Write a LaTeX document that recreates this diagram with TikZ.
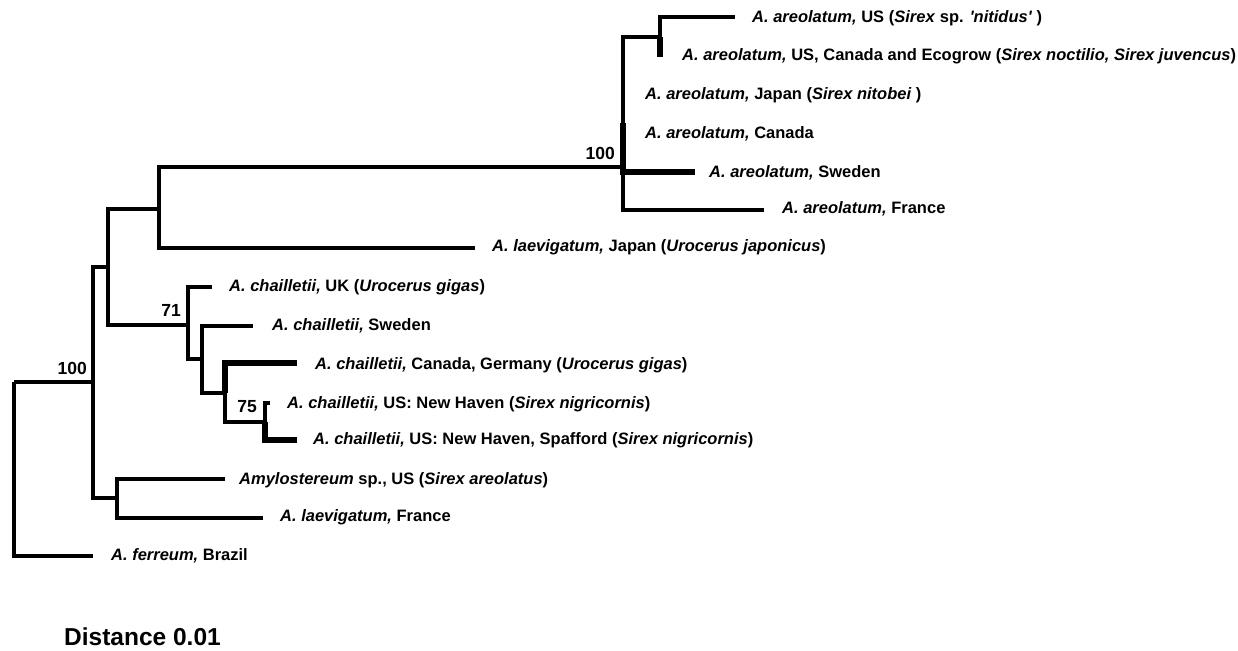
\documentclass[tikz,border=0pt]{standalone}
\usepackage{fontspec}
\setmainfont{Liberation Sans}
\begin{document}
\begin{tikzpicture}[x=1pt,y=-1pt,
  br/.style={line width=3.4pt,line join=miter},
  thk/.style={line width=5.5pt},
  lab/.style={anchor=west,inner sep=0pt,font=\fontsize{16.5}{19}\selectfont\bfseries},
  boot/.style={anchor=base east,inner sep=0pt,font=\fontsize{17.5}{19}\selectfont\bfseries}]
\path[use as bounding box] (0,0) rectangle (1238,650);
% inner nodes
\coordinate (root) at (14,382);
\coordinate (n93) at (93,382);
\coordinate (n108) at (108,267);
\coordinate (n159) at (159,209);
\coordinate (nA) at (623,167);
\coordinate (nUS) at (623,37);
\coordinate (nUSb) at (660,37);
\coordinate (n188) at (188,325);
\coordinate (n202) at (202,359);
\coordinate (n225) at (225,393);
\coordinate (n265) at (265,422);
\coordinate (n117) at (117,498);
% tips
\coordinate (tFer) at (93,556);
\coordinate (tUS) at (735,17);
\coordinate (tEco) at (660,57);
\coordinate (tJapA) at (623,123);
\coordinate (tCan) at (623,172);
\coordinate (tSweA) at (695,172);
\coordinate (tFra) at (764,210);
\coordinate (tLaevJ) at (475,248);
\coordinate (tUK) at (212,287);
\coordinate (tSwe) at (253,326);
\coordinate (tCG) at (297,363);
\coordinate (tNH) at (270,403);
\coordinate (tNHS) at (297,440);
\coordinate (tAmy) at (225,479);
\coordinate (tLaevF) at (263,518);
% branches
\draw[br] (root) |- (tFer);
\draw[br] (root) -- (n93);
\draw[br] (n93) |- (n108);
\draw[br] (n93) |- (n117);
\draw[br] (n108) |- (n159);
\draw[br] (n108) |- (n188);
\draw[br] (n159) |- (nA);
\draw[br] (n159) |- (tLaevJ);
\draw[br] (nA) -- (nUS) -- (nUSb);
\draw[br] (nA) |- (tFra);
\draw[thk] (tJapA) -- (tCan);
\draw[thk] (nA) |- (tSweA);
\draw[br] (nUSb) |- (tUS);
\draw[thk] (nUSb) -- (tEco);
\draw[br] (n188) |- (tUK);
\draw[br] (n188) |- (n202);
\draw[br] (n202) |- (tSwe);
\draw[br] (n202) |- (n225);
\draw[thk] (n225) |- (tCG);
\draw[br] (n225) |- (n265);
\draw[br] (n265) |- (tNH);
\draw[thk] (n265) |- (tNHS);
\draw[br] (n117) |- (tAmy);
\draw[br] (n117) |- (tLaevF);
% labels
\node[lab] (lUS) at (752,18) {\textit{A. areolatum,} US (\textit{Sirex} sp. \textit{\textquotesingle nitidus\textquotesingle} )};
\node[lab] (lEco) at (682,56) {\textit{A. areolatum,} US, Canada and Ecogrow (\textit{Sirex noctilio, Sirex juvencus})};
\node[lab] (lJap) at (645,95) {\textit{A. areolatum,} Japan (\textit{Sirex nitobei} )};
\node[lab] (lCan) at (645,134) {\textit{A. areolatum,} Canada};
\node[lab] (lSweA) at (709,173) {\textit{A. areolatum,} Sweden};
\node[lab] (lFra) at (782,209) {\textit{A. areolatum,} France};
\node[lab] (lLaevJ) at (492,247) {\textit{A. laevigatum,} Japan (\textit{Urocerus japonicus})};
\node[lab] (lUK) at (229,287) {\textit{A. chailletii,} UK (\textit{Urocerus gigas})};
\node[lab] (lSwe) at (272,326) {\textit{A. chailletii,} Sweden};
\node[lab] (lCG) at (315,365) {\textit{A. chailletii,} Canada, Germany (\textit{Urocerus gigas})};
\node[lab] (lNH) at (287,404) {\textit{A. chailletii,} US: New Haven (\textit{Sirex nigricornis})};
\node[lab] (lNHS) at (313,440) {\textit{A. chailletii,} US: New Haven, Spafford (\textit{Sirex nigricornis})};
\node[lab] (lAmy) at (239,480) {\textit{Amylostereum} sp., US (\textit{Sirex areolatus})};
\node[lab] (lLaevF) at (280,517) {\textit{A. laevigatum,} France};
\node[lab] (lFer) at (111,556) {\textit{A. ferreum,} Brazil};
% bootstrap values
\node[boot] (b100a) at (615,159) {100};
\node[boot] (b100b) at (87,374) {100};
\node[boot] (b71) at (181,316) {71};
\node[boot] (b75) at (257,412) {75};
% scale
\node[anchor=base west,inner sep=0pt,font=\fontsize{24.5}{27}\selectfont\bfseries] (dist) at (64,645) {Distance 0.01};
\end{tikzpicture}
\end{document}
